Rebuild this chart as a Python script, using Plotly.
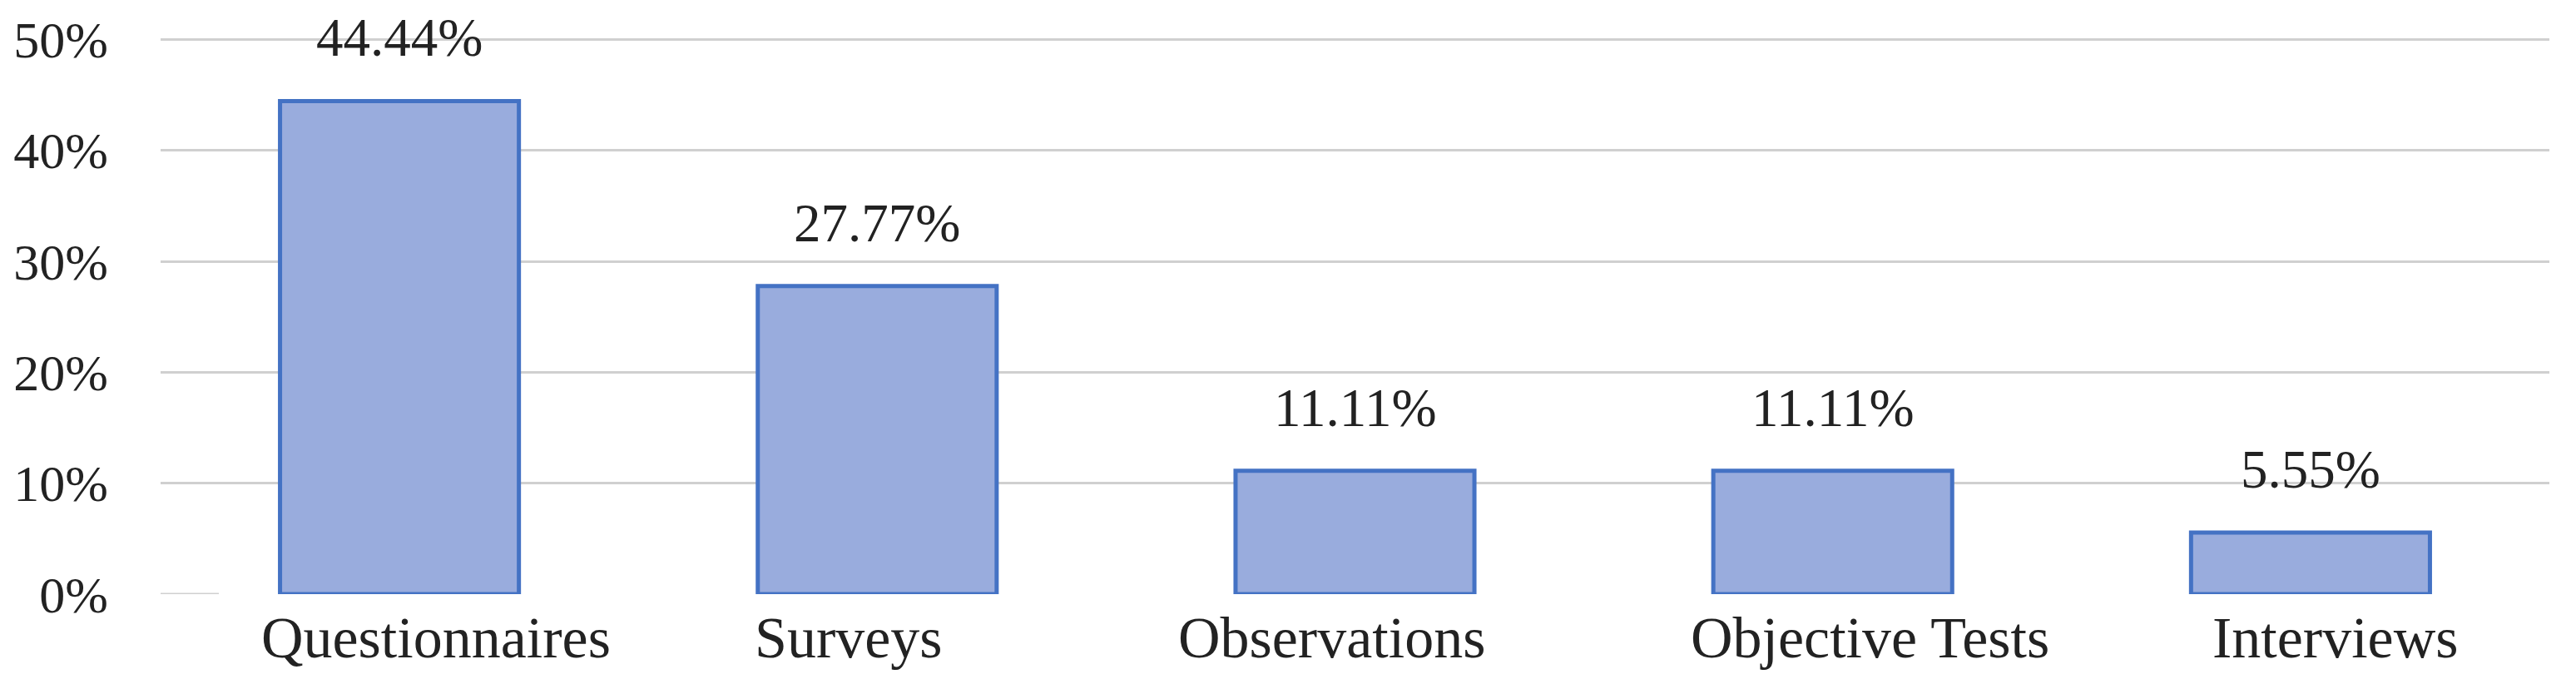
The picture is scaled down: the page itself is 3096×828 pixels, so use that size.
import plotly.graph_objects as go

categories = ["Questionnaires", "Surveys", "Observations", "Objective Tests", "Interviews"]
values = [44.44, 27.77, 11.11, 11.11, 5.55]
value_labels = ["44.44%", "27.77%", "11.11%", "11.11%", "5.55%"]
y_ticks = [0, 10, 20, 30, 40, 50]
y_tick_labels = ["0%", "10%", "20%", "30%", "40%", "50%"]

# small horizontal offsets of the category labels as they appear in the source image (px)
label_xshift = [44, -34, -28, 45, 30]

FONT = "Liberation Serif, Times New Roman, serif"
W, H = 3096, 828
L, R, T, B = 193, 32, 34, 114

fig = go.Figure()
fig.add_trace(go.Bar(
    x=categories,
    y=values,
    marker=dict(color="#99acdd", line=dict(color="#4472c4", width=5)),
    width=0.5,
    hoverinfo="skip",
))

for c, v, t in zip(categories, values, value_labels):
    fig.add_annotation(x=c, y=v, text=t, showarrow=False, yshift=76,
                       font=dict(family=FONT, size=65, color="#222222"),
                       xref="x", yref="y")

for c, dx in zip(categories, label_xshift):
    fig.add_annotation(x=c, y=0, text=c, showarrow=False, xref="x", yref="paper",
                       yanchor="middle", xshift=dx, yshift=-52,
                       font=dict(family=FONT, size=70, color="#222222"))

fig.add_shape(type="line", xref="paper", yref="y", x0=0, x1=0.0244, y0=0, y1=0,
              line=dict(color="#d0d0d0", width=3))

fig.update_layout(
    width=W, height=H,
    margin=dict(l=L, r=R, t=T, b=B, pad=0),
    paper_bgcolor="white", plot_bgcolor="white",
    showlegend=False,
    xaxis=dict(
        automargin=False,
        showline=False, showgrid=False, zeroline=False, ticks="",
        showticklabels=False,
    ),
    yaxis=dict(
        automargin=False,
        range=[0, 51], tickvals=y_ticks, ticktext=y_tick_labels,
        showgrid=True, gridcolor="#d0d0d0", gridwidth=3,
        zeroline=True, zerolinecolor="rgba(0,0,0,0)",
        showline=False, ticks="",
        tickfont=dict(family=FONT, size=62, color="#222222"),
        ticklabelstandoff=62,
    ),
)

fig.write_html("out.html", config={"displayModeBar": False},
               post_script="document.body.style.margin='0';")
